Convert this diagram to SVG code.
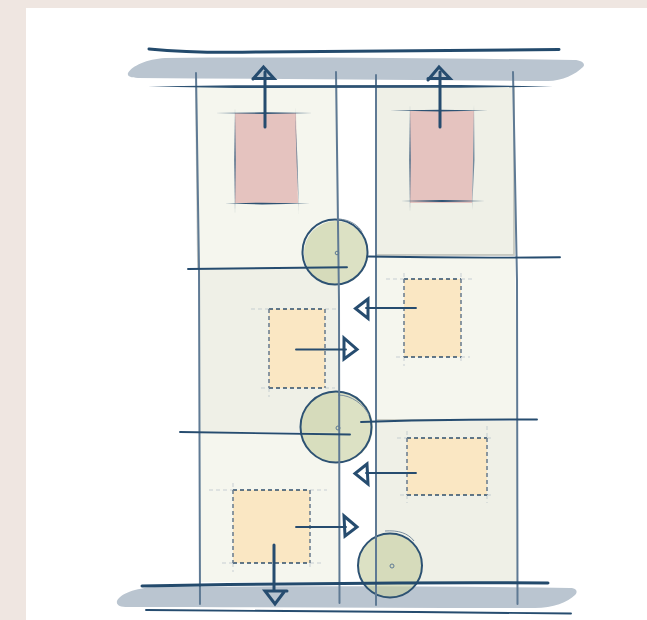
<svg xmlns="http://www.w3.org/2000/svg" width="647" height="620" viewBox="0 0 647 620">
<style>
.road{fill:#bac5d0}
.lt{fill:#f5f6ee}
.dk{fill:#eff0e7}
.shadow{fill:none;stroke:#b9bcb4;stroke-width:1.8;opacity:.75}
.pink{fill:#e5c3bf}
.org{fill:#fae7c3}
.wall{fill:none;stroke:#5f7a94;stroke-width:2;stroke-linecap:round}
.heavy{fill:none;stroke:#234a6c;stroke-width:3;stroke-linecap:round}
.arrow{fill:none;stroke:#264c6f;stroke-width:3;stroke-linecap:round;stroke-linejoin:miter}
.thin{fill:none;stroke:#264c6f;stroke-width:1.9;stroke-linecap:round}
.taper{fill:#2d5273}
.tick{fill:#56728c;opacity:.8}
.dashh{fill:none;stroke:#2f4f6c;stroke-width:1.6;stroke-dasharray:4 3}
.dashv{fill:none;stroke:#6f8091;stroke-width:1.6;stroke-dasharray:4 3}
.fade{stroke:#bcc6cc;stroke-width:1;stroke-dasharray:4 3;fill:none;opacity:.8}
.disc{fill:#c6cfa0;fill-opacity:.62}
.ring{fill:none;stroke:#2d5273;stroke-width:2}
.hi{fill:none;stroke:#7c8fa0;stroke-width:1}
.dot{fill:none;stroke:#5f7a94;stroke-width:1}
</style>
<rect width="647" height="620" fill="#fff"/>
<path d="M0 0H647V8H26V620H0Z" fill="#efe6e1"/>
<g id="road-top"><path class="road" d="M128 73C132 66 147 59 165 58C290 57 440 58 574 60C582 60 586 64 583 67C576 74 562 81 548 81C420 80 280 79 138 78C130 78 127 76 128 73Z"/></g>
<g id="road-bottom"><path class="road" d="M117 601C120 594 135 588 155 587C300 586 440 586 570 588C577 588 578 592 575 595C568 602 553 608 535 608C400 608 270 607 128 607C120 607 116 605 117 601Z"/></g>
<g id="cell-a"><path class="lt" d="M197 86H338L339 268H199Z"/><path class="shadow" d="M196 86L198 268"/></g>
<g id="cell-b"><path class="dk" d="M376 86H514L515 255H376Z"/><path class="shadow" d="M376 86V256M376 255H514V86"/></g>
<g id="cell-c"><path class="dk" d="M199 268H339L340 432H200Z"/></g>
<g id="cell-d"><path class="lt" d="M376 257H515L517 420H376Z"/></g>
<g id="cell-e"><path class="lt" d="M200 433H340V582H200Z"/></g>
<g id="cell-f"><path class="dk" d="M376 421H517V582H376Z"/><path class="shadow" d="M376 420L450 420"/></g>
<g id="zone-pink-1">
<path class="pink" d="M235 113H296L298 203H235Z"/>
<path class="taper" d="M215 113L264 112.300L313 113L264 114Z"/>
<path class="taper" d="M225 203.500L262 202.700L310 203.500L262 204.400Z"/>
<path class="tick" d="M235 108L236 160L235 214L234 160Z"/>
<path class="tick" d="M295 108L297.500 160L299 214L296.500 160Z"/>
</g>
<g id="zone-pink-2">
<path class="pink" d="M410 111H474L472 203H410Z"/>
<path class="taper" d="M390 110.500L440 109.700L488 110.500L440 111.400Z"/>
<path class="taper" d="M401 201L442 200.100L485 201L442 202Z"/>
<path class="tick" d="M410 105L411 160L410 212L409 160Z"/>
<path class="tick" d="M474 105L474.500 160L472 210L473 160Z"/>
</g>
<g id="zone-orange-1">
<path class="org" d="M269 309H325V388H269Z"/>
<path class="fade" d="M251 309H269M325 309H339M261 388H269M325 388H335M269 388V397"/>
<path class="dashh" d="M269 309H325M269 388H325"/><path class="dashv" d="M269 309V388M325 309V388"/>
</g>
<g id="zone-orange-2">
<path class="org" d="M404 279H461V357H404Z"/>
<path class="fade" d="M386 279H404M461 279H473M396 357H404M461 357H470M404 273V279M404 357V366M461 273V279M461 357V364"/>
<path class="dashh" d="M404 279H461M404 357H461"/><path class="dashv" d="M404 279V357M461 279V357"/>
</g>
<g id="zone-orange-3">
<path class="org" d="M407 438H487V495H407Z"/>
<path class="fade" d="M397 438H407M487 438H492M400 495H407M487 495H492M407 431V438M407 495V503M487 495V503M487 426V438"/>
<path class="dashh" d="M407 438H487M407 495H487"/><path class="dashv" d="M407 438V495M487 438V495"/>
</g>
<g id="zone-orange-4">
<path class="org" d="M233 490H310V563H233Z"/>
<path class="fade" d="M209 490H233M310 490H327M222 563H233M310 563H322M233 483V490M233 563V572M310 563V570"/>
<path class="dashh" d="M233 490H310M233 563H310"/><path class="dashv" d="M233 490V563M310 490V563"/>
</g>
<g id="node-1"><circle class="disc" cx="336" cy="253" r="32"/><circle class="ring" cx="335" cy="252" r="32.500"/><path class="hi" d="M337 219C350 219 359 226 362 232"/><circle class="dot" cx="337" cy="253" r="1.800"/></g>
<g id="node-2"><circle class="disc" cx="337" cy="427" r="36"/><circle class="ring" cx="336" cy="427" r="35.500"/><path class="hi" d="M338 395C352 395 364 405 369 415"/><circle class="dot" cx="338" cy="428" r="2"/></g>
<g id="node-3"><circle class="disc" cx="390" cy="566" r="32"/><circle class="ring" cx="390" cy="565.500" r="32"/><path class="hi" d="M385 531C398 530 408 533 414 541"/><circle class="dot" cx="392" cy="566" r="2"/></g>
<g id="connectors">
<path class="wall" d="M196 73L199 268L200 604"/>
<path class="wall" d="M336 72L339 300L339.500 603"/>
<path class="wall" d="M376 75V605"/>
<path class="wall" d="M513 72L517 280L517.500 604"/>
<path class="heavy" d="M149 49C180 52 215 53 260 52C360 51 460 50 559 49.500"/>
<path class="taper" d="M148 86.500L235 85.200L460 85L553 86.500L460 87.800L235 88Z"/>
<path class="heavy" d="M142 586C260 584 400 582 548 583" stroke-width="3.200"/>
<path class="thin" d="M146 610C280 611 430 612 571 613.500"/>
<path class="thin" d="M188 269L347 267.200" stroke-width="2.200"/>
<path class="thin" d="M368 256.500C420 257.500 490 258 560 257.300"/>
<path class="thin" d="M180 432L350 434.500" stroke-width="2.200"/>
<path class="thin" d="M361 422C420 420 480 419.500 537 419.500"/>
<path class="arrow" d="M265 127V72"/>
<path class="arrow" d="M253 79L263.500 67L274 78.500H253"/>
<path class="arrow" d="M440 127V72"/>
<path class="arrow" d="M428 80L439 67L450 78.500H428"/>
<path class="thin" d="M416 308H366"/>
<path class="arrow" d="M368 299L355.500 308.500L368 318.500Z"/>
<path class="thin" d="M296 349.500H346"/>
<path class="arrow" d="M344 338L357 349.500L344 359Z"/>
<path class="thin" d="M416 473H366"/>
<path class="arrow" d="M367 464L355 473.500L368 484Z"/>
<path class="thin" d="M296 527H346"/>
<path class="arrow" d="M344 516L357 527L345 536Z"/>
<path class="arrow" d="M274 545V590"/>
<path class="arrow" d="M287 591H265L275 604L284 592"/>
</g>
</svg>
